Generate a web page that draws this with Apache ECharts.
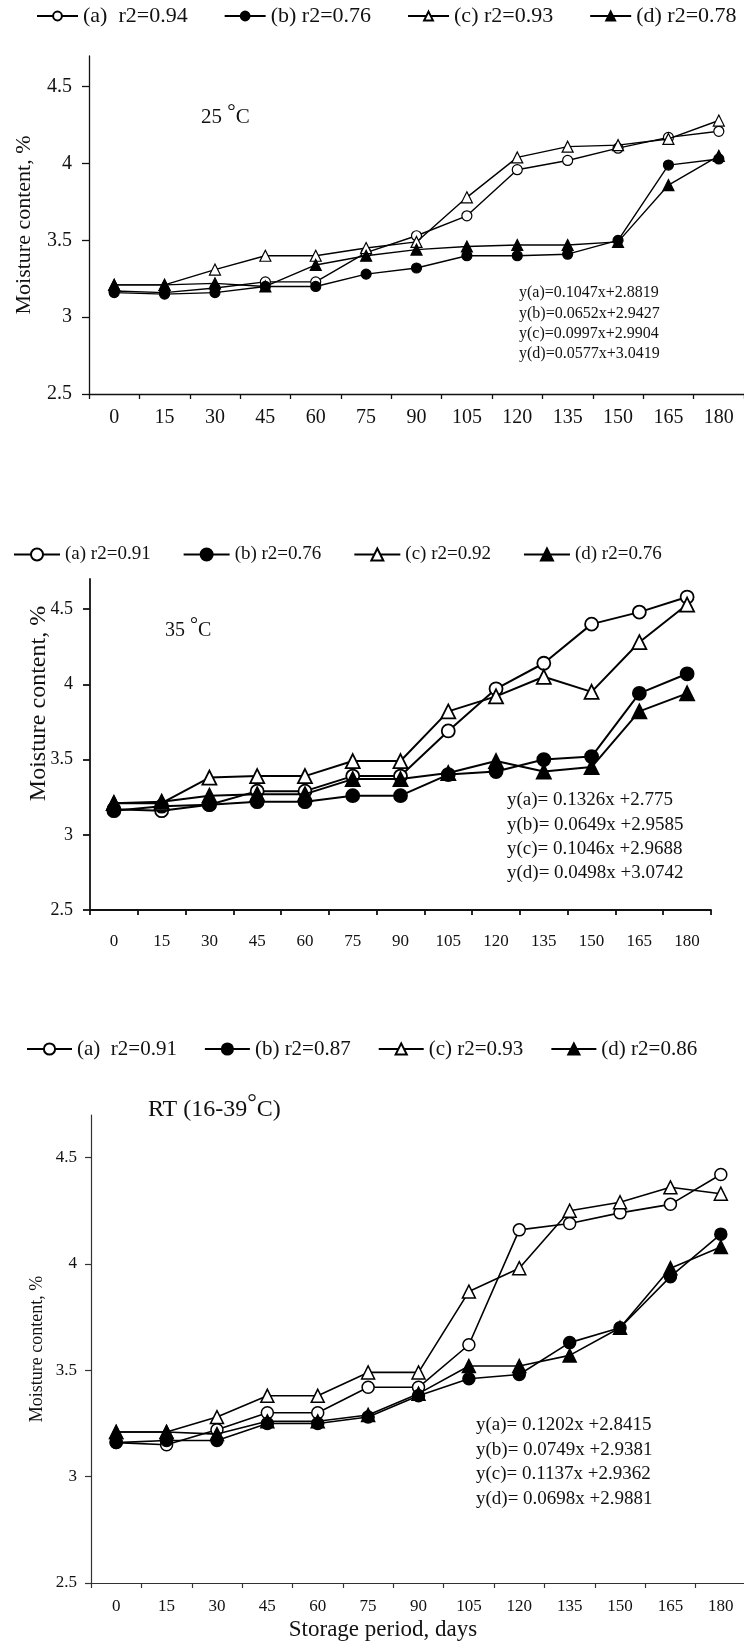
<!DOCTYPE html>
<html>
<head>
<meta charset="utf-8">
<script src="https://cdn.jsdelivr.net/npm/echarts@6/dist/echarts.min.js"></script>
<style>
html,body{margin:0;padding:0;background:#fff;}
.c{position:absolute;left:0;width:744px;}
</style>
</head>
<body>
<div id="c1" class="c" style="top:0;height:520px"></div>
<div id="c2" class="c" style="top:520px;height:500px"></div>
<div id="c3" class="c" style="top:1020px;height:624px"></div>
<script>
// ---------- data ----------
const days = ['0','15','30','45','60','75','90','105','120','135','150','165','180'];
const yTickValues = [2.5, 3, 3.5, 4, 4.5];

// 25 °C
const names25 = ['(a)  r2=0.94', '(b) r2=0.76', '(c) r2=0.93', '(d) r2=0.78'];
const a25 = [3.17, 3.16, 3.19, 3.23, 3.23, 3.42, 3.53, 3.66, 3.96, 4.02, 4.10, 4.17, 4.21];
const b25 = [3.16, 3.15, 3.16, 3.20, 3.20, 3.28, 3.32, 3.40, 3.40, 3.41, 3.50, 3.99, 4.03];
const c25 = [3.21, 3.21, 3.31, 3.40, 3.40, 3.45, 3.49, 3.78, 4.04, 4.11, 4.12, 4.16, 4.28];
const d25 = [3.21, 3.21, 3.22, 3.20, 3.34, 3.40, 3.44, 3.46, 3.47, 3.47, 3.49, 3.86, 4.05];
const eq25 = ['y(a)=0.1047x+2.8819', 'y(b)=0.0652x+2.9427', 'y(c)=0.0997x+2.9904', 'y(d)=0.0577x+3.0419'];

// 35 °C
const names35 = ['(a) r2=0.91', '(b) r2=0.76', '(c) r2=0.92', '(d) r2=0.76'];
const a35 = [3.17, 3.16, 3.20, 3.29, 3.29, 3.39, 3.39, 3.69, 3.97, 4.14, 4.40, 4.48, 4.58];
const b35 = [3.16, 3.19, 3.20, 3.22, 3.22, 3.26, 3.26, 3.40, 3.42, 3.50, 3.52, 3.94, 4.07];
const c35 = [3.21, 3.21, 3.38, 3.39, 3.39, 3.49, 3.49, 3.82, 3.92, 4.05, 3.95, 4.28, 4.53];
const d35 = [3.21, 3.22, 3.26, 3.27, 3.27, 3.37, 3.37, 3.41, 3.49, 3.42, 3.45, 3.82, 3.94];
const eq35 = ['y(a)= 0.1326x +2.775', 'y(b)= 0.0649x +2.9585', 'y(c)= 0.1046x +2.9688', 'y(d)= 0.0498x +3.0742'];

// RT (16-39 °C)
const namesRT = ['(a)  r2=0.91', '(b) r2=0.87', '(c) r2=0.93', '(d) r2=0.86'];
const aRT = [3.16, 3.15, 3.22, 3.30, 3.30, 3.42, 3.42, 3.62, 4.16, 4.19, 4.24, 4.28, 4.42];
const bRT = [3.16, 3.17, 3.17, 3.25, 3.25, 3.28, 3.38, 3.46, 3.48, 3.63, 3.70, 3.94, 4.14];
const cRT = [3.21, 3.21, 3.28, 3.38, 3.38, 3.49, 3.49, 3.87, 3.98, 4.25, 4.29, 4.36, 4.33];
const dRT = [3.21, 3.21, 3.20, 3.26, 3.26, 3.29, 3.39, 3.52, 3.52, 3.57, 3.70, 3.98, 4.08];
const eqRT = ['y(a)= 0.1202x +2.8415', 'y(b)= 0.0749x +2.9381', 'y(c)= 0.1137x +2.9362', 'y(d)= 0.0698x +2.9881'];

const yTitle = 'Moisture content, %';
const xTitle = 'Storage period, days';

// ---------- builder ----------
const FONT = '"Liberation Serif", "Times New Roman", serif';
const TXT = '#111';
const symbols = ['circle', 'circle', 'triangle', 'triangle'];
const fills = ['#fff', '#000', '#fff', '#000'];

function buildOption(cfg) {
  const rich = {
    n: {fontFamily: FONT, fontSize: cfg.temp.fontSize, lineHeight: cfg.temp.fontSize, color: TXT, fontWeight: 'normal'},
    s: {fontFamily: FONT, fontSize: cfg.temp.fontSize, lineHeight: cfg.temp.fontSize, color: TXT, fontWeight: 'normal',
        padding: [0, 0, cfg.temp.raise, 0]}
  };
  const graphic = [{
    type: 'text', x: cfg.yName.x, y: cfg.yName.y, rotation: Math.PI / 2,
    style: {text: yTitle, font: cfg.yName.fontSize + 'px ' + FONT, fill: TXT,
            textAlign: 'center', textVerticalAlign: 'middle'}
  }];
  if (cfg.xName) {
    graphic.push({
      type: 'text', x: cfg.xName.x, y: cfg.xName.y,
      style: {text: xTitle, font: cfg.xName.fontSize + 'px ' + FONT, fill: TXT,
              textAlign: 'center', textVerticalAlign: 'middle'}
    });
  }
  return {
    animation: false,
    backgroundColor: '#fff',
    grid: Object.assign({outerBoundsMode: 'none', containLabel: false}, cfg.grid),
    legend: {
      data: cfg.names, left: cfg.legend.left, top: cfg.legend.top, padding: 0,
      itemWidth: cfg.legend.itemWidth, itemHeight: cfg.legend.itemHeight, itemGap: cfg.legend.itemGap,
      selectedMode: false,
      textStyle: {fontFamily: FONT, fontSize: cfg.legend.fontSize, color: TXT}
    },
    title: [
      {text: cfg.temp.text, left: cfg.temp.left, top: cfg.temp.top, padding: 0,
       textStyle: {rich: rich, fontFamily: FONT, fontWeight: 'normal', color: TXT}},
      {text: cfg.eq.lines.join('\n'), left: cfg.eq.left, top: cfg.eq.top, padding: 0,
       textStyle: {fontFamily: FONT, fontSize: cfg.eq.fontSize, lineHeight: cfg.eq.lineHeight,
                   fontWeight: 'normal', color: TXT}}
    ],
    graphic: graphic,
    xAxis: {
      type: 'category', data: days, boundaryGap: true,
      axisLine: {show: true, lineStyle: {color: cfg.axisColor, width: cfg.axisWidth}},
      axisTick: {show: true, length: 5, lineStyle: {color: cfg.axisColor, width: cfg.axisWidth}},
      axisLabel: {interval: 0, fontFamily: FONT, fontSize: cfg.xLabel.fontSize, color: TXT, margin: cfg.xLabel.margin},
      splitLine: {show: false}
    },
    yAxis: {
      type: 'value', min: 2.5, max: 4.7,
      axisLine: {show: true, lineStyle: {color: cfg.axisColor, width: cfg.axisWidth}},
      axisTick: {show: true, length: cfg.yTickLen, customValues: yTickValues,
                 lineStyle: {color: cfg.axisColor, width: cfg.axisWidth}},
      axisLabel: {customValues: yTickValues, fontFamily: FONT, fontSize: cfg.yLabel.fontSize,
                  color: TXT, margin: cfg.yLabel.margin},
      splitLine: {show: false}
    },
    series: cfg.data.map(function (d, i) {
      return {
        name: cfg.names[i], type: 'line', data: d,
        symbol: symbols[i], symbolSize: i < 2 ? cfg.circleSize : cfg.triSize,
        showSymbol: true, showAllSymbol: true,
        lineStyle: {color: '#000', width: cfg.lineWidth},
        itemStyle: {color: fills[i], borderColor: '#000', borderWidth: cfg.borderWidth},
        emphasis: {disabled: true},
        z: 2 + i
      };
    })
  };
}

const cfg1 = {
  names: names25, data: [a25, b25, c25, d25],
  grid: {left: 89, top: 56, width: 655, height: 338},
  xLabel: {fontSize: 20, margin: 14}, yLabel: {fontSize: 20, margin: 17},
  yTickLen: 7, axisWidth: 1.3, axisColor: '#111',
  lineWidth: 1.4, borderWidth: 1.2, circleSize: 10, triSize: 11,
  legend: {left: 36, top: 5, itemWidth: 41, itemHeight: 11, itemGap: 36, fontSize: 22},
  temp: {text: '{n|25 }{s|°}{n|C}', left: 201, top: 107, fontSize: 21, raise: 10},
  eq: {lines: eq25, left: 519, top: 283, fontSize: 16, lineHeight: 20.3},
  yName: {x: 24, y: 225, fontSize: 22}
};
const cfg2 = {
  names: names35, data: [a35, b35, c35, d35],
  grid: {left: 90, top: 59, width: 621, height: 331},
  xLabel: {fontSize: 17, margin: 23}, yLabel: {fontSize: 18, margin: 17},
  yTickLen: 7, axisWidth: 1.8, axisColor: '#111',
  lineWidth: 2, borderWidth: 1.8, circleSize: 13, triSize: 14,
  legend: {left: 13, top: 25, itemWidth: 46, itemHeight: 15, itemGap: 32, fontSize: 19},
  temp: {text: '{n|35 }{s|°}{n|C}', left: 165, top: 100.5, fontSize: 20, raise: 10},
  eq: {lines: eq35, left: 507, top: 268, fontSize: 19, lineHeight: 24.4},
  yName: {x: 39, y: 183.5, fontSize: 24}
};
const cfg3 = {
  names: namesRT, data: [aRT, bRT, cRT, dRT],
  grid: {left: 91, top: 95, width: 655, height: 468},
  xLabel: {fontSize: 17, margin: 15}, yLabel: {fontSize: 17, margin: 14},
  yTickLen: 6, axisWidth: 1.2, axisColor: '#333',
  lineWidth: 1.6, borderWidth: 1.5, circleSize: 12, triSize: 13,
  legend: {left: 26, top: 18.5, itemWidth: 45, itemHeight: 14, itemGap: 27, fontSize: 21},
  temp: {text: '{n|RT (16-39}{s|°}{n|C)}', left: 148, top: 78, fontSize: 24, raise: 12},
  eq: {lines: eqRT, left: 476, top: 392.6, fontSize: 19, lineHeight: 24.7},
  yName: {x: 37, y: 329, fontSize: 18},
  xName: {x: 383, y: 610, fontSize: 23}
};

echarts.init(document.getElementById('c1'), null, {renderer: 'canvas'}).setOption(buildOption(cfg1));
echarts.init(document.getElementById('c2'), null, {renderer: 'canvas'}).setOption(buildOption(cfg2));
echarts.init(document.getElementById('c3'), null, {renderer: 'canvas'}).setOption(buildOption(cfg3));
</script>
</body>
</html>
